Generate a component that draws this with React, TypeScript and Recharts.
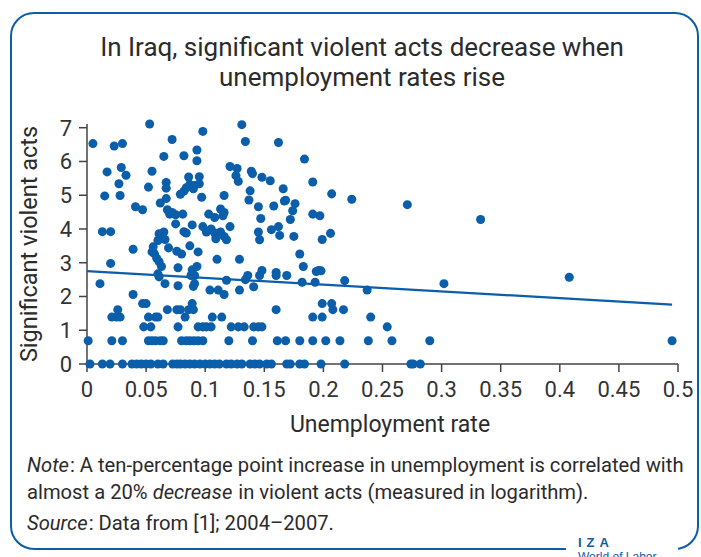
import React from 'react';
import { ScatterChart, Scatter, XAxis, YAxis, ZAxis, Label } from 'recharts';

const BLUE = '#0b5ea9';
const FONT = "Roboto, 'Noto Sans', sans-serif";

const xTicks = [0, 0.05, 0.1, 0.15, 0.2, 0.25, 0.3, 0.35, 0.4, 0.45, 0.5];
const yTicks = [0, 1, 2, 3, 4, 5, 6, 7];

// scattered points (unemployment rate, log of violent acts)
const scatterRates = [
  0.053, 0.005, 0.023, 0.030, 0.072, 0.098, 0.131, 0.134, 0.162,
  0.065, 0.082, 0.093, 0.093, 0.184,
  0.017, 0.029, 0.033, 0.027, 0.015, 0.028,
  0.055, 0.052, 0.067, 0.067, 0.067, 0.062,
  0.086, 0.095, 0.087, 0.091, 0.084, 0.095, 0.090, 0.082, 0.079, 0.097,
  0.116, 0.121, 0.127, 0.126, 0.128, 0.139, 0.140, 0.148, 0.155, 0.138, 0.137, 0.166, 0.168, 0.191, 0.207,
  0.224, 0.271, 0.197, 0.333, 0.206, 0.199, 0.198, 0.218, 0.237, 0.302, 0.408,
  0.041, 0.047, 0.068, 0.072, 0.075, 0.070, 0.075, 0.081, 0.089, 0.103, 0.108, 0.113, 0.116, 0.115,
  0.098, 0.101, 0.105, 0.108, 0.109, 0.113, 0.116, 0.118, 0.121,
  0.082, 0.084, 0.061, 0.065, 0.063, 0.060, 0.066, 0.013, 0.020,
  0.039, 0.056, 0.055, 0.057, 0.059, 0.061, 0.063, 0.069, 0.076, 0.080, 0.087, 0.094, 0.110, 0.129, 0.020,
  0.060, 0.061,
  0.077, 0.089, 0.093, 0.088, 0.091, 0.118, 0.136, 0.134, 0.148, 0.146, 0.160, 0.160, 0.169,
  0.145, 0.147, 0.145, 0.146, 0.156, 0.162, 0.163, 0.158, 0.167, 0.176, 0.174, 0.172, 0.175, 0.180,
  0.183, 0.191, 0.194, 0.196, 0.182, 0.193,
  0.011, 0.066, 0.077, 0.091, 0.090,
  0.104, 0.111, 0.116, 0.129, 0.141, 0.039,
];
const scatterActs = [
  7.11, 6.53, 6.46, 6.53, 6.65, 6.89, 7.09, 6.59, 6.56,
  6.15, 6.17, 6.34, 6.02, 6.07,
  5.69, 5.82, 5.59, 5.34, 4.98, 4.99,
  5.71, 5.24, 5.38, 5.21, 4.9, 4.77,
  5.54, 5.55, 5.32, 5.29, 5.22, 5.34, 5.19, 5.12, 5.03, 4.94,
  4.99, 5.85, 5.79, 5.58, 5.41, 5.71, 5.64, 5.53, 5.43, 5.13, 4.86, 5.19, 4.85, 5.39, 5.04,
  4.88, 4.72, 4.39, 4.28, 3.87, 3.69, 2.76, 2.47, 2.19, 2.38, 2.57,
  4.66, 4.57, 4.57, 4.49, 4.42, 4.44, 4.15, 4.44, 4.12, 4.44, 4.34, 4.59, 4.49, 4.39,
  4.07, 3.91, 4.0, 3.88, 3.71, 3.91, 3.78, 3.68, 4.07,
  3.92, 3.88, 3.86, 3.91, 3.74, 3.66, 3.69, 3.92, 3.92,
  3.4, 3.47, 3.32, 3.27, 3.13, 3.03, 2.89, 3.44, 3.34, 3.26, 3.5, 3.32, 3.1, 3.1, 2.98,
  2.67, 2.58,
  2.85, 2.79, 2.89, 2.62, 2.62, 2.48, 2.62, 2.5, 2.77, 2.62, 2.71, 2.62, 2.62,
  4.66, 4.31, 3.91, 3.68, 3.98, 4.07, 3.81, 4.68, 4.83, 4.75, 4.54, 4.28, 3.78, 3.26,
  2.89, 4.44, 2.74, 2.77, 2.42, 2.42,
  2.38, 2.38, 2.32, 2.38, 2.3,
  2.19, 2.19, 2.06, 2.19, 2.29, 2.06,
];

// points sitting on the discrete low levels
const rowActs = [0, 0.69, 1.1, 1.39, 1.61, 1.79];
const rowRates = [
  [0.0025, 0.013, 0.0195, 0.030, 0.038, 0.042, 0.046, 0.050, 0.054, 0.060, 0.0645, 0.0725, 0.076, 0.079,
   0.083, 0.087, 0.091, 0.0955, 0.100, 0.104, 0.108, 0.112, 0.118, 0.122, 0.127, 0.131, 0.138, 0.142,
   0.146, 0.152, 0.156, 0.169, 0.172, 0.180, 0.184, 0.198, 0.218, 0.274, 0.276, 0.282],
  [0.001, 0.021, 0.030, 0.052, 0.055, 0.058, 0.062, 0.0645, 0.080, 0.084, 0.087, 0.0905, 0.094, 0.098,
   0.120, 0.140, 0.161, 0.168, 0.180, 0.191, 0.202, 0.214, 0.238, 0.258, 0.290, 0.495],
  [0.048, 0.054, 0.077, 0.094, 0.098, 0.101, 0.105, 0.122, 0.128, 0.133, 0.141, 0.145, 0.148, 0.254],
  [0.021, 0.025, 0.028, 0.052, 0.058, 0.060, 0.083, 0.106, 0.114, 0.191, 0.199, 0.240],
  [0.026, 0.068, 0.076, 0.079, 0.086, 0.090, 0.160, 0.208, 0.217],
  [0.047, 0.050, 0.089, 0.199, 0.207],
];

const fitRates = [0, 0.495];
const fitActs = [2.75, 1.76];

const points = [
  ...scatterRates.map((x, i) => ({ x, y: scatterActs[i] })),
  ...rowRates.flatMap((xs, r) => xs.map((x) => ({ x, y: rowActs[r] }))),
];
const fitLine = fitRates.map((x, i) => ({ x, y: fitActs[i] }));

const tickStyle = { fill: '#333', fontSize: 22, fontFamily: FONT };
const italic = { fontStyle: 'italic' as const, paddingRight: 1 };

export default function App() {
  return (
    <div
      style={{
        position: 'absolute',
        left: 0,
        top: 0,
        width: 701,
        height: 557,
        overflow: 'hidden',
        background: '#fff',
        fontFamily: FONT,
        color: '#2b2b2b',
      }}
    >
      <div
        style={{
          position: 'absolute',
          left: 10,
          top: 12,
          width: 685,
          height: 534,
          border: `2.5px solid ${BLUE}`,
          borderRadius: 24,
        }}
      />
      <div
        style={{
          position: 'absolute',
          left: 40,
          top: 32,
          width: 644,
          textAlign: 'center',
          fontSize: 26,
          lineHeight: '30px',
        }}
      >
        In Iraq, significant violent acts decrease when
        <br />
        unemployment rates rise
      </div>

      <div style={{ position: 'absolute', left: 0, top: 0 }}>
        <ScatterChart width={701} height={440} margin={{ top: 124, right: 23, bottom: 16, left: 27 }}>
          <XAxis
            type="number"
            dataKey="x"
            domain={[0, 0.5]}
            ticks={xTicks}
            tickFormatter={(v) => String(v)}
            interval={0}
            height={60}
            tick={tickStyle}
            tickSize={8}
            tickMargin={9}
            axisLine={{ stroke: '#444', strokeWidth: 1.5 }}
            tickLine={{ stroke: '#444', strokeWidth: 1.5 }}
          >
            <Label
              content={() => (
                <text x={390} y={432} textAnchor="middle" fill="#2b2b2b" fontSize={23} fontFamily={FONT}>
                  Unemployment rate
                </text>
              )}
            />
          </XAxis>
          <YAxis
            type="number"
            dataKey="y"
            domain={[0, 7]}
            ticks={yTicks}
            interval={0}
            width={60}
            tick={tickStyle}
            tickSize={8}
            tickMargin={7}
            axisLine={{ stroke: '#444', strokeWidth: 1.5 }}
            tickLine={{ stroke: '#444', strokeWidth: 1.5 }}
          >
            <Label
              content={() => (
                <text
                  x={37}
                  y={244}
                  textAnchor="middle"
                  transform="rotate(-90, 37, 244)"
                  fill="#2b2b2b"
                  fontSize={23.5}
                  fontFamily={FONT}
                >
                  Significant violent acts
                </text>
              )}
            />
          </YAxis>
          <ZAxis range={[64, 64]} />
          <Scatter data={points} fill={BLUE} isAnimationActive={false} />
          <Scatter
            data={fitLine}
            line={{ stroke: BLUE, strokeWidth: 2.2 }}
            shape={() => <g />}
            isAnimationActive={false}
          />
        </ScatterChart>
      </div>

      <div
        style={{
          position: 'absolute',
          left: 27,
          top: 452,
          whiteSpace: 'nowrap',
          fontSize: 20.2,
          lineHeight: '27px',
        }}
      >
        <span style={italic}>Note</span>: A ten-percentage point increase in unemployment is correlated with
        <br />
        almost a 20% <span style={italic}>decrease</span> in violent acts (measured in logarithm).
      </div>
      <div style={{ position: 'absolute', left: 27, top: 510, fontSize: 20.2, lineHeight: '27px' }}>
        <span style={italic}>Source</span>: Data from [1]; 2004–2007.
      </div>

      <div style={{ position: 'absolute', left: 566, top: 536, width: 112, height: 21, background: '#fff' }} />
      <div
        style={{
          position: 'absolute',
          left: 578,
          top: 535,
          fontSize: 13,
          fontWeight: 'bold',
          letterSpacing: 5,
          color: BLUE,
          fontFamily: "'Liberation Sans', sans-serif",
        }}
      >
        IZA
      </div>
      <div
        style={{
          position: 'absolute',
          left: 578,
          top: 550,
          fontSize: 12,
          color: BLUE,
          fontFamily: "'Liberation Sans', sans-serif",
        }}
      >
        World of Labor
      </div>
    </div>
  );
}
